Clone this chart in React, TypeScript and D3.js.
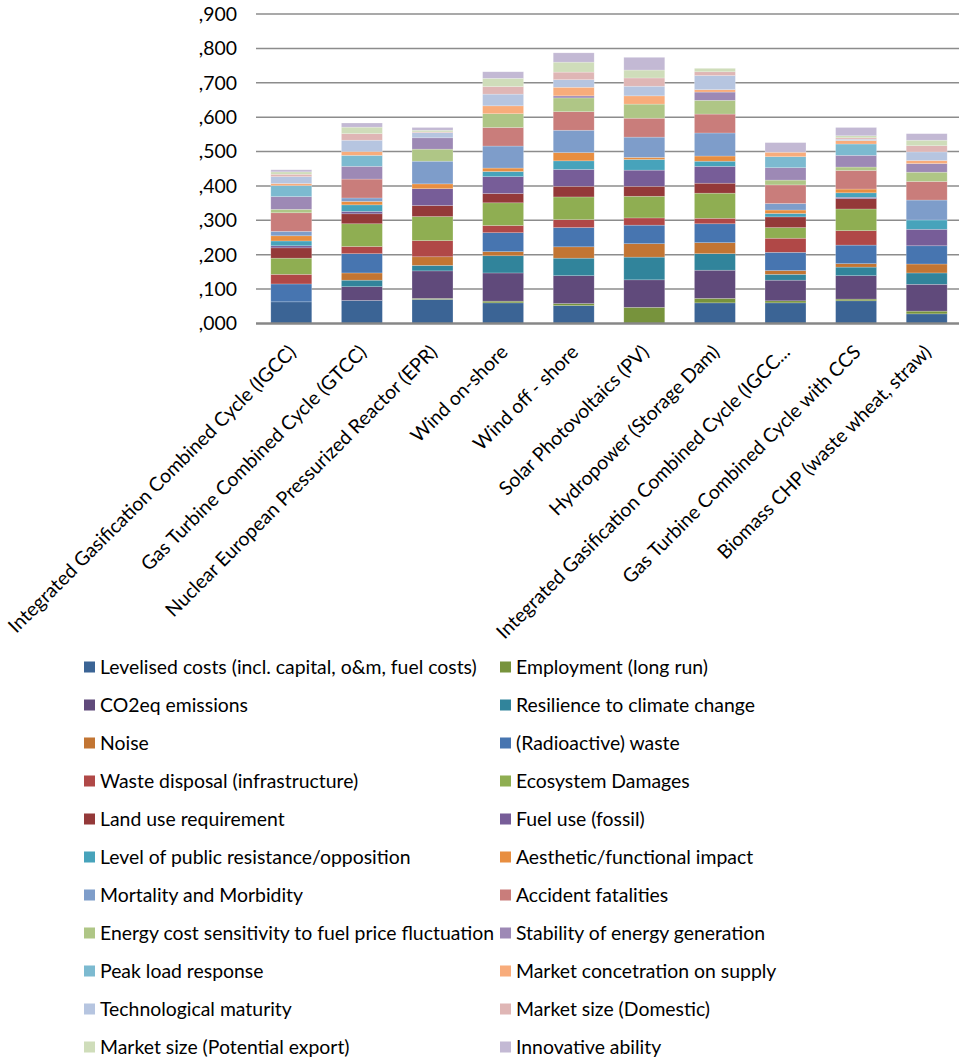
import { useEffect, useRef } from 'react';
import * as d3 from 'd3';

const categories = [
  'Integrated Gasification Combined Cycle (IGCC)',
  'Gas Turbine Combined Cycle (GTCC)',
  'Nuclear European Pressurized Reactor (EPR)',
  'Wind on-shore',
  'Wind off - shore',
  'Solar Photovoltaics (PV)',
  'Hydropower (Storage Dam)',
  'Integrated Gasification Combined Cycle (IGCC...',
  'Gas Turbine Combined Cycle with CCS',
  'Biomass CHP (waste wheat, straw)',
];

const seriesNames = [
  'Levelised costs (incl. capital, o&m, fuel costs)',
  'Employment (long run)',
  'CO2eq emissions',
  'Resilience to climate change',
  'Noise',
  '(Radioactive) waste',
  'Waste disposal (infrastructure)',
  'Ecosystem Damages',
  'Land use requirement',
  'Fuel use (fossil)',
  'Level of public resistance/opposition',
  'Aesthetic/functional impact',
  'Mortality and Morbidity',
  'Accident fatalities',
  'Energy cost sensitivity to fuel price fluctuation',
  'Stability of energy generation',
  'Peak load response',
  'Market concetration on supply',
  'Technological maturity',
  'Market size (Domestic)',
  'Market size (Potential export)',
  'Innovative ability',
];

const seriesColors = [
  '#3b6495', '#77933c', '#604a7b', '#31849b', '#c27533', '#4775b0',
  '#b04847', '#8fae52', '#943939', '#775d98', '#47a3bb', '#e88e40',
  '#7e9dca', '#c97d7b', '#afc686', '#9d89b5', '#7cbad0', '#f8ac7b',
  '#b6c5e0', '#dfb6b5', '#cfddba', '#c3b9d4',
];

// one array per series, one value per category
const levelised = [0.063, 0.067, 0.070, 0.060, 0.052, 0.000, 0.060, 0.060, 0.066, 0.028];
const employment = [0.000, 0.000, 0.003, 0.005, 0.006, 0.047, 0.013, 0.006, 0.005, 0.008];
const co2 = [0.000, 0.040, 0.080, 0.082, 0.081, 0.080, 0.082, 0.060, 0.068, 0.078];
const resilience = [0.000, 0.019, 0.016, 0.050, 0.051, 0.066, 0.048, 0.017, 0.025, 0.033];
const noise = [0.000, 0.021, 0.025, 0.012, 0.033, 0.039, 0.032, 0.011, 0.010, 0.026];
const radWaste = [0.052, 0.056, 0.000, 0.055, 0.056, 0.054, 0.055, 0.053, 0.054, 0.053];
const wasteDisposal = [0.028, 0.021, 0.047, 0.021, 0.023, 0.021, 0.016, 0.041, 0.042, 0.000];
const ecosystem = [0.047, 0.066, 0.070, 0.066, 0.066, 0.063, 0.073, 0.031, 0.063, 0.000];
const landUse = [0.030, 0.029, 0.032, 0.027, 0.031, 0.029, 0.029, 0.031, 0.030, 0.000];
const fuelUse = [0.006, 0.007, 0.049, 0.049, 0.049, 0.047, 0.049, 0.000, 0.004, 0.048];
const publicResistance = [0.014, 0.019, 0.000, 0.015, 0.025, 0.031, 0.015, 0.010, 0.013, 0.027];
const aesthetic = [0.015, 0.010, 0.014, 0.010, 0.024, 0.006, 0.015, 0.010, 0.011, 0.000];
const mortality = [0.013, 0.010, 0.066, 0.064, 0.065, 0.059, 0.067, 0.019, 0.000, 0.058];
const accident = [0.054, 0.055, 0.000, 0.054, 0.054, 0.055, 0.055, 0.054, 0.054, 0.054];
const energyCost = [0.010, 0.000, 0.035, 0.040, 0.040, 0.041, 0.040, 0.014, 0.010, 0.027];
const stability = [0.037, 0.037, 0.033, 0.000, 0.006, 0.000, 0.024, 0.036, 0.034, 0.025];
const peakLoad = [0.032, 0.032, 0.000, 0.000, 0.000, 0.000, 0.000, 0.032, 0.033, 0.000];
const marketConc = [0.006, 0.011, 0.000, 0.023, 0.025, 0.024, 0.007, 0.013, 0.010, 0.009];
const techMaturity = [0.020, 0.033, 0.015, 0.034, 0.022, 0.028, 0.041, 0.000, 0.004, 0.025];
const marketDomestic = [0.007, 0.019, 0.002, 0.022, 0.022, 0.024, 0.011, 0.000, 0.004, 0.018];
const marketExport = [0.007, 0.019, 0.005, 0.024, 0.029, 0.023, 0.010, 0.000, 0.006, 0.016];
const innovative = [0.006, 0.012, 0.008, 0.019, 0.027, 0.037, 0.000, 0.028, 0.024, 0.019];

const seriesValues = [
  levelised, employment, co2, resilience, noise, radWaste, wasteDisposal,
  ecosystem, landUse, fuelUse, publicResistance, aesthetic, mortality, accident,
  energyCost, stability, peakLoad, marketConc, techMaturity, marketDomestic,
  marketExport, innovative,
];

const yTicks = [0, 0.1, 0.2, 0.3, 0.4, 0.5, 0.6, 0.7, 0.8, 0.9];

const FONT = 'Lato, "Open Sans", sans-serif';
const FONT_SIZE = '19.4px';

export default function App() {
  const svgRef = useRef<SVGSVGElement>(null);

  useEffect(() => {
    if (!svgRef.current) return;
    const width = 959;
    const height = 1061;
    const plot = { left: 256, right: 962, top: 14, bottom: 323.5 };

    const svg = d3.select(svgRef.current);
    svg.selectAll('*').remove();

    const x = d3.scaleBand<number>()
      .domain(categories.map((_, i) => i))
      .range([plot.left, plot.right])
      .paddingInner(0.42)
      .paddingOuter(0.21);

    const y = d3.scaleLinear().domain([0, 0.9]).range([plot.bottom, plot.top]);

    // gridlines
    svg.append('g')
      .selectAll('line')
      .data(yTicks.slice(1))
      .join('line')
      .attr('x1', plot.left).attr('x2', plot.right)
      .attr('y1', d => y(d)).attr('y2', d => y(d))
      .attr('stroke', '#8c8c8c')
      .attr('stroke-width', 1.5);

    // y labels
    svg.append('g')
      .selectAll('text')
      .data(yTicks)
      .join('text')
      .attr('x', 237)
      .attr('y', d => y(d))
      .attr('dy', '0.35em')
      .attr('text-anchor', 'end')
      .style('font-family', FONT)
      .style('font-size', FONT_SIZE)
      .style('fill', '#000')
      .text(d => ',' + d3.format('03d')(Math.round(d * 1000)));

    // stacked bars
    const rows = categories.map((_, ci) => {
      const r: Record<string, number> = { idx: ci };
      seriesNames.forEach((_, si) => { r['s' + si] = seriesValues[si][ci]; });
      return r;
    });
    const stack = d3.stack<Record<string, number>>().keys(seriesNames.map((_, si) => 's' + si));
    const layers = stack(rows);

    svg.append('g')
      .selectAll('g')
      .data(layers)
      .join('g')
      .attr('fill', (_, i) => seriesColors[i])
      .selectAll('rect')
      .data(d => d.filter(p => p[1] - p[0] > 0))
      .join('rect')
      .attr('x', d => x(d.data.idx)!)
      .attr('width', x.bandwidth())
      .attr('y', d => y(d[1]))
      .attr('height', d => y(d[0]) - y(d[1]))
      .attr('stroke', '#ffffff')
      .attr('stroke-opacity', 0.35)
      .attr('stroke-width', 0.6);

    // x axis line
    svg.append('line')
      .attr('x1', plot.left).attr('x2', plot.right)
      .attr('y1', plot.bottom).attr('y2', plot.bottom)
      .attr('stroke', '#878787')
      .attr('stroke-width', 2.5);

    // category labels
    svg.append('g')
      .selectAll('text')
      .data(categories)
      .join('text')
      .attr('transform', (_, i) => `translate(${x(i)! + x.bandwidth() / 2 + 1},${plot.bottom + 25}) rotate(-45)`)
      .attr('text-anchor', 'end')
      .attr('dy', '0.35em')
      .style('font-family', FONT)
      .style('font-size', FONT_SIZE)
      .style('fill', '#000')
      .text(d => d);

    // legend
    const legend = svg.append('g');
    const item = legend.selectAll('g')
      .data(seriesNames)
      .join('g')
      .attr('transform', (_, i) => `translate(${i % 2 === 0 ? 84 : 500},${667 + Math.floor(i / 2) * 38})`);
    item.append('rect')
      .attr('x', 0).attr('y', -5.5)
      .attr('width', 11).attr('height', 11)
      .attr('fill', (_, i) => seriesColors[i]);
    item.append('text')
      .attr('x', 16)
      .attr('dy', '0.35em')
      .style('font-family', FONT)
      .style('font-size', FONT_SIZE)
      .style('fill', '#000')
      .text(d => d);

    svg.attr('width', width).attr('height', height);
  }, []);

  return (
    <svg
      ref={svgRef}
      width={959}
      height={1061}
      style={{ position: 'absolute', left: 0, top: 0, background: '#fff' }}
    />
  );
}
